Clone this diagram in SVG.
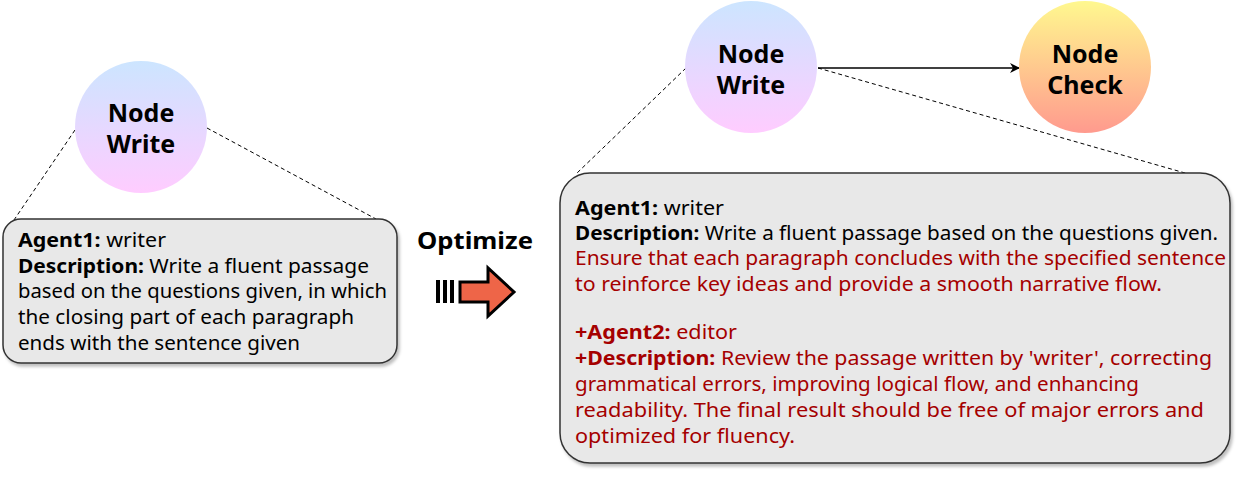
<svg xmlns="http://www.w3.org/2000/svg" width="1245" height="480" viewBox="0 0 1245 480">
<defs>
<linearGradient id="gWrite" x1="0" y1="0" x2="0" y2="1"><stop offset="0" stop-color="#cce5ff"/><stop offset="1" stop-color="#ffccff"/></linearGradient>
<linearGradient id="gCheck" x1="0" y1="0" x2="0" y2="1"><stop offset="0" stop-color="#fff88f"/><stop offset="1" stop-color="#ff9a8e"/></linearGradient>
<filter id="sh" x="-5%" y="-5%" width="110%" height="115%"><feDropShadow dx="2" dy="3" stdDeviation="1.5" flood-color="#000" flood-opacity="0.25"/></filter>
<marker id="arr" markerWidth="10" markerHeight="10" refX="9" refY="5" orient="auto" markerUnits="userSpaceOnUse"><path d="M0,0 L10,5 L0,10 L3,5 Z" fill="#000"/></marker>
<style>
.nodeT{font-family:"Comic Sans MS","Noto Sans","DejaVu Sans",sans-serif;font-weight:bold;font-size:25px;fill:#000;text-anchor:middle}
.body{font-family:"Comic Sans MS","Noto Sans","DejaVu Sans",sans-serif;font-size:19px;fill:#000}
.red{fill:#a50000}
.b{font-weight:bold}
.box{fill:#e8e8e8;stroke:#333;stroke-width:1.5;filter:url(#sh)}
.dash{stroke:#000;stroke-width:1;stroke-dasharray:4,3;fill:none}
</style>
</defs>
<g id="connectors">
<line class="dash" x1="75" y1="130" x2="14" y2="220"/>
<line class="dash" x1="207" y1="128" x2="376" y2="219"/>
<line class="dash" x1="686" y1="68" x2="576" y2="174"/>
<line class="dash" x1="818" y1="68" x2="1192" y2="175"/>
<line x1="818" y1="68" x2="1019" y2="68" stroke="#000" stroke-width="1.5" marker-end="url(#arr)"/>
</g>
<g id="node-write-left">
<circle cx="141" cy="127" r="66" fill="url(#gWrite)"/>
<text class="nodeT" x="141" y="122">Node</text>
<text class="nodeT" x="141" y="153">Write</text>
</g>
<g id="box-left">
<rect class="box" x="3" y="219" width="394" height="144" rx="18"/>
<text class="body" x="18" y="247" textLength="148" lengthAdjust="spacingAndGlyphs"><tspan class="b">Agent1:</tspan> writer</text>
<text class="body" x="18" y="273" textLength="351" lengthAdjust="spacingAndGlyphs"><tspan class="b">Description:</tspan> Write a fluent passage</text>
<text class="body" x="18" y="298" textLength="369" lengthAdjust="spacingAndGlyphs">based on the questions given, in which</text>
<text class="body" x="18" y="324" textLength="336" lengthAdjust="spacingAndGlyphs">the closing part of each paragraph</text>
<text class="body" x="18" y="350" textLength="282" lengthAdjust="spacingAndGlyphs">ends with the sentence given</text>
</g>
<g id="optimize">
<text x="475" y="249" style="font-family:'Comic Sans MS','Noto Sans','DejaVu Sans',sans-serif;font-weight:bold;font-size:24px;text-anchor:middle" textLength="116" lengthAdjust="spacingAndGlyphs">Optimize</text>
<g fill="#000">
<rect x="436" y="280" width="4" height="23"/>
<rect x="443" y="280" width="4" height="23"/>
<rect x="450" y="280" width="4" height="23"/>
</g>
<path d="M460,282 L488,282 L488,268 L514,292 L488,316 L488,302 L460,302 Z" fill="#ee6548" stroke="#000" stroke-width="3" stroke-linejoin="miter"/>
</g>
<g id="node-write">
<circle cx="751" cy="67" r="66" fill="url(#gWrite)"/>
<text class="nodeT" x="751" y="63">Node</text>
<text class="nodeT" x="751" y="94">Write</text>
</g>
<g id="node-check">
<circle cx="1085" cy="67" r="66" fill="url(#gCheck)"/>
<text class="nodeT" x="1085" y="63">Node</text>
<text class="nodeT" x="1085" y="94">Check</text>
</g>
<g id="box-right">
<rect class="box" x="560" y="173" width="670" height="290" rx="30"/>
<text class="body" x="575" y="215" textLength="149" lengthAdjust="spacingAndGlyphs"><tspan class="b">Agent1:</tspan> writer</text>
<text class="body" x="575" y="240" textLength="643" lengthAdjust="spacingAndGlyphs"><tspan class="b">Description:</tspan> Write a fluent passage based on the questions given.</text>
<text class="body red" x="575" y="265" textLength="651" lengthAdjust="spacingAndGlyphs">Ensure that each paragraph concludes with the specified sentence</text>
<text class="body red" x="575" y="291" textLength="587" lengthAdjust="spacingAndGlyphs">to reinforce key ideas and provide a smooth narrative flow.</text>
<text class="body red" x="575" y="339" textLength="162" lengthAdjust="spacingAndGlyphs"><tspan class="b">+Agent2:</tspan> editor</text>
<text class="body red" x="575" y="365" textLength="637" lengthAdjust="spacingAndGlyphs"><tspan class="b">+Description:</tspan> Review the passage written by 'writer', correcting</text>
<text class="body red" x="575" y="391" textLength="564" lengthAdjust="spacingAndGlyphs">grammatical errors, improving logical flow, and enhancing</text>
<text class="body red" x="575" y="417" textLength="629" lengthAdjust="spacingAndGlyphs">readability. The final result should be free of major errors and</text>
<text class="body red" x="575" y="443" textLength="220" lengthAdjust="spacingAndGlyphs">optimized for fluency.</text>
</g>
</svg>
